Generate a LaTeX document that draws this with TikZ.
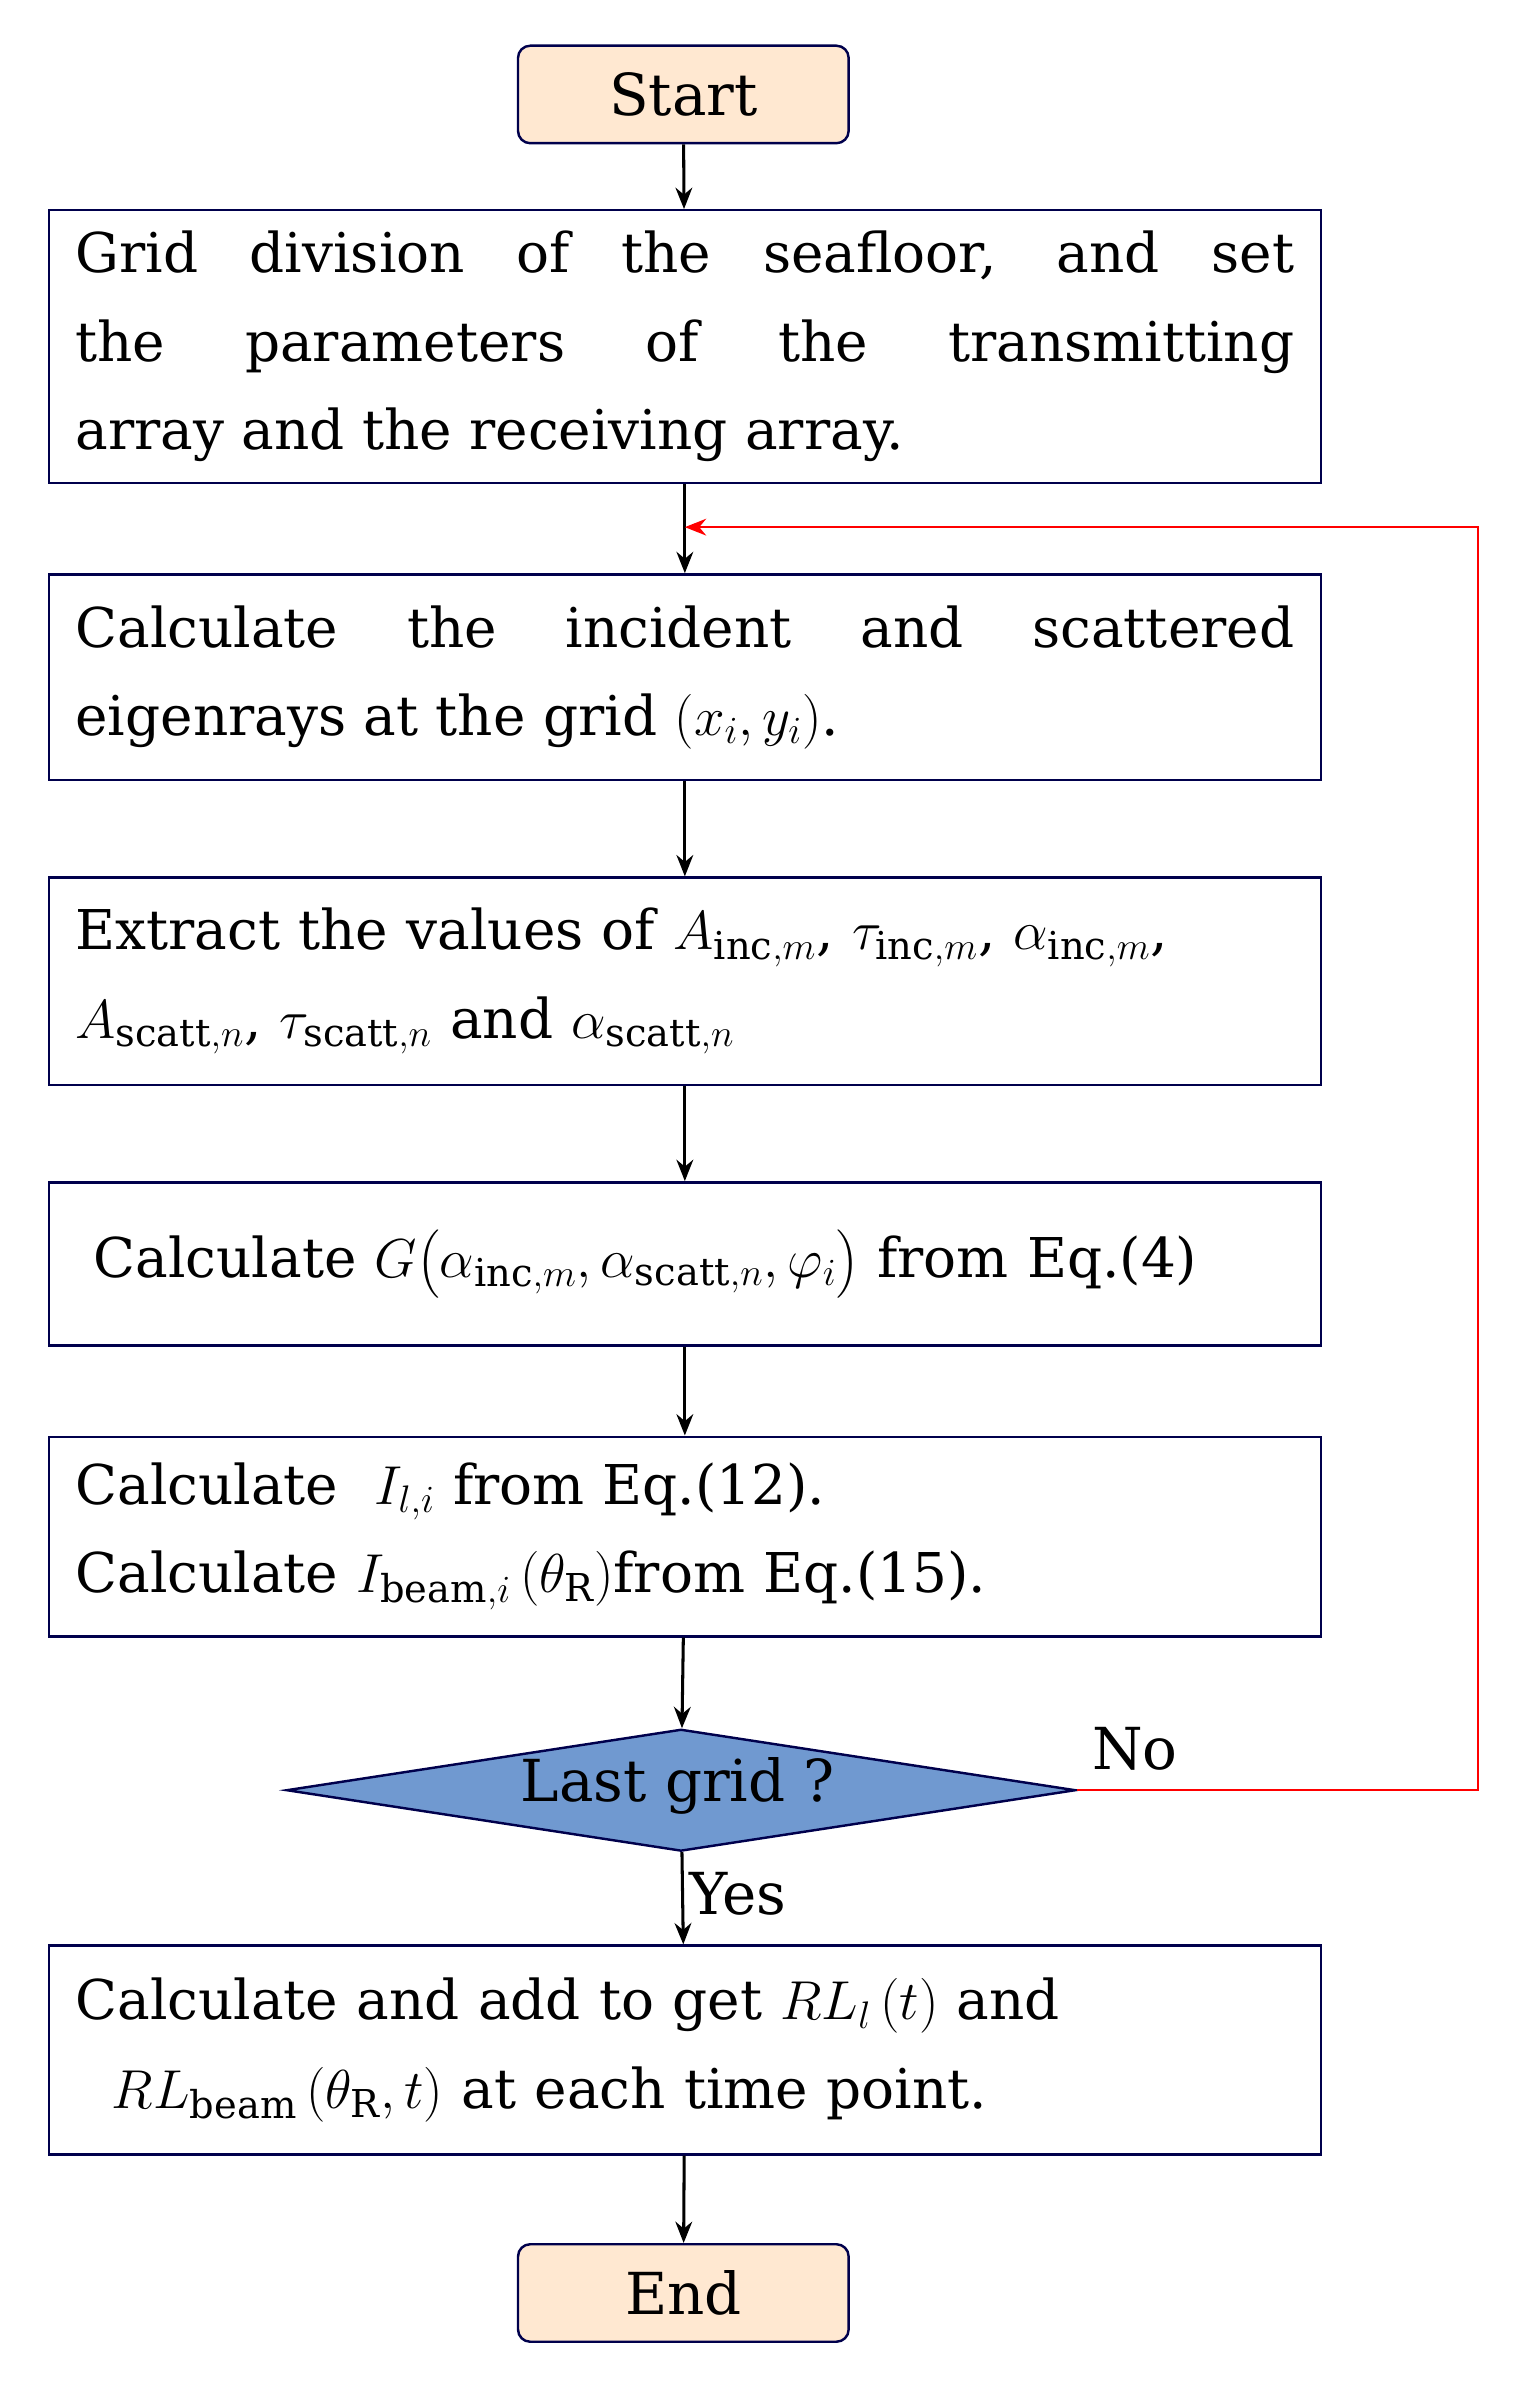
\RequirePackage{fix-cm}
\documentclass[tikz,border=0pt]{standalone}
\usepackage{amsmath}
\usepackage{fontspec}
\setmainfont{DejaVu Serif}
\usetikzlibrary{shapes.geometric,arrows.meta}
\begin{document}
\begin{tikzpicture}[x=1pt,y=-1pt,
  box/.style={draw=blue!30!black,line width=1.6pt,minimum width=835pt,inner sep=0pt},
  term/.style={draw=blue!30!black,line width=1.6pt,fill=orange!18,rounded corners=8pt,minimum width=217pt,minimum height=64pt,font=\fontsize{38}{46}\selectfont},
  txt/.style={font=\fontsize{36}{58}\selectfont,text width=800pt},
  arr/.style={-{Stealth[length=14pt,width=11pt]},line width=2pt}]
\useasboundingbox (0,0) rectangle (1000,1570);
\node[term] (start) at (448.5,62) {Start};
\node[box,minimum height=179pt] (b1) at (449.5,227.5) {};
\node[txt,align=justify] at (b1) {Grid division of the seafloor, and set\linebreak the parameters of the transmitting\linebreak array and the receiving array.};
\node[box,minimum height=135pt] (b2) at (449.5,444.5) {};
\node[txt,align=justify] at (b2) {Calculate the incident and scattered\linebreak eigenrays at the grid $(x_i,y_i)$.};
\node[box,minimum height=136pt] (b3) at (449.5,644) {};
\node[txt,align=left] at (b3) {Extract the values of $A_{\mathrm{inc},m}$, $\tau_{\mathrm{inc},m}$, $\alpha_{\mathrm{inc},m}$,\\ $A_{\mathrm{scatt},n}$, $\tau_{\mathrm{scatt},n}$ and $\alpha_{\mathrm{scatt},n}$};
\node[box,minimum height=107pt] (b4) at (449.5,829.5) {};
\node[txt,align=left] at ([xshift=12pt]b4) {Calculate $G\big(\alpha_{\mathrm{inc},m},\alpha_{\mathrm{scatt},n},\varphi_i\big)$ from Eq.(4)};
\node[box,minimum height=131pt] (b5) at (449.5,1008.5) {};
\node[txt,align=left] at (b5) {Calculate \ $I_{l,i}$ from Eq.(12).\\ Calculate $I_{\mathrm{beam},i}\,(\theta_{\mathrm R})$from Eq.(15).};
\node[diamond,draw=blue!30!black,line width=1.6pt,fill={rgb,255:red,112;green,153;blue,208},aspect=6.5,minimum width=518pt,minimum height=80pt,inner sep=0pt] (d) at (447,1175) {};
\node[font=\fontsize{38}{46}\selectfont] at (445,1172) {Last grid ?};
\node[box,minimum height=137pt] (b6) at (449.5,1345.5) {};
\node[txt,align=left] at (b6) {Calculate and add to get $RL_l\,(t)$ and\\ \ \ $RL_{\mathrm{beam}}\,(\theta_{\mathrm R},t)$ at each time point.};
\node[term] (end) at (448.5,1505) {End};
\draw[arr] (start) -- (b1);
\draw[arr] (b1) -- (b2);
\draw[arr] (b2) -- (b3);
\draw[arr] (b3) -- (b4);
\draw[arr] (b4) -- (b5);
\draw[arr] (b5) -- (d);
\draw[arr] (d) -- node[right,font=\fontsize{38}{46}\selectfont,pos=0.45]{Yes} (b6);
\draw[arr] (b6) -- (end);
\coordinate (c1) at (970,1175);
\coordinate (c2) at (970,346);
\coordinate (c3) at (449.5,346);
\draw[red,line width=1.6pt,-{Stealth[length=14pt,width=11pt]}] (d.east) -- (c1) -- (c2) -- (c3);
\node[font=\fontsize{38}{46}\selectfont] at (745,1148) {No};
\end{tikzpicture}
\end{document}
